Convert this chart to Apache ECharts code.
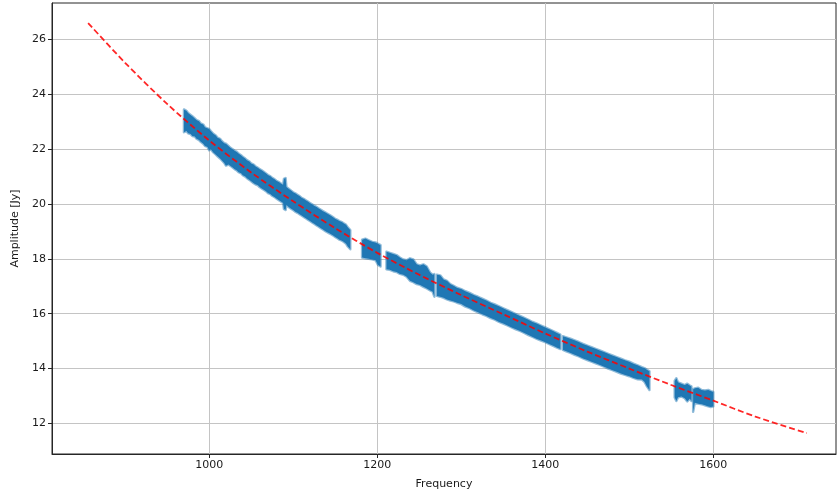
<!DOCTYPE html>
<html>
<head>
<meta charset="utf-8">
<script src="https://cdn.jsdelivr.net/npm/echarts@6/dist/echarts.min.js"></script>
<style>
html,body{margin:0;padding:0;background:#fff;}
#chart{width:837px;height:495px;}
</style>
</head>
<body>
<div id="chart"></div>
<script>
// ---- data ----
const xTicks = [1000, 1200, 1400, 1600];
const yTicks = [12, 14, 16, 18, 20, 22, 24, 26];

// red dashed model curve
const fitFreq = [856, 900, 950, 1000, 1050, 1100, 1150, 1200, 1250, 1300, 1350, 1400, 1450, 1500, 1550, 1600, 1650, 1711];
const fitAmp  = [26.60, 25.15, 23.65, 22.32, 21.15, 20.10, 19.12, 18.22, 17.42, 16.68, 15.98, 15.28, 14.62, 14.00, 13.40, 12.83, 12.25, 11.65];

// measured amplitude band (upper / lower envelope); null separates segments
const bandFreq = [
  970,973,975,978,980,983,985,988,990,993,995,998,1000,1002,1005,1008,1010,1013,1015,1018,1020,1023,1025,1028,1030,1033,1035,1038,1040,1043,1045,1048,1050,1053,1055,1058,1060,1063,1065,1068,1070,1073,1075,1078,1080,1083,1085,1088,1089,1091,1092,1095,1098,1100,1103,1105,1108,1110,1113,1115,1118,1120,1123,1125,1128,1130,1133,1135,1138,1140,1143,1145,1148,1150,1153,1155,1158,1160,1163,1165,1168,
  null,
  1182,1186,1190,1194,1198,1201,1204,
  null,
  1211,1215,1219,1223,1227,1231,1235,1239,1243,1247,1251,1255,1259,1263,1266,1268,
  null,
  1271,1275,1279,1283,1287,1291,1295,1300,1305,1310,1315,1320,1325,1330,1335,1340,1345,1350,1355,1360,1365,1370,1375,1380,1385,1390,1395,1400,1405,1410,1414,1418,
  null,
  1421,1425,1430,1435,1440,1445,1450,1455,1460,1465,1470,1475,1480,1485,1490,1495,1500,1505,1510,1515,1518,1521,1524,
  null,
  1554,1556,1558,1562,1566,1569,1572,1574,
  null,
  1576,1578,1582,1586,1590,1594,1597,1600
];
const bandUpper = [
  23.45,23.40,23.32,23.25,23.20,23.12,23.06,23.02,22.94,22.90,22.80,22.76,22.74,22.66,22.56,22.50,22.42,22.38,22.30,22.22,22.20,22.12,22.06,22.00,21.95,21.90,21.84,21.78,21.72,21.66,21.60,21.55,21.48,21.44,21.38,21.32,21.28,21.22,21.18,21.11,21.06,21.01,20.96,20.90,20.85,20.80,20.76,20.70,20.92,20.95,20.62,20.55,20.48,20.43,20.38,20.34,20.28,20.23,20.18,20.14,20.08,20.04,19.98,19.94,19.89,19.85,19.79,19.75,19.70,19.66,19.61,19.57,19.51,19.46,19.42,19.38,19.34,19.30,19.24,19.15,19.05,
  null,
  18.70,18.74,18.68,18.62,18.60,18.55,18.50,
  null,
  18.26,18.22,18.18,18.14,18.05,17.98,17.95,18.02,17.98,17.80,17.76,17.80,17.72,17.50,17.42,17.45,
  null,
  17.42,17.40,17.25,17.20,17.08,17.02,16.95,16.90,16.82,16.76,16.68,16.62,16.55,16.48,16.40,16.34,16.27,16.20,16.13,16.06,15.99,15.92,15.85,15.78,15.70,15.64,15.57,15.50,15.43,15.36,15.30,15.24,
  null,
  15.18,15.14,15.09,15.03,14.97,14.90,14.84,14.78,14.72,14.66,14.60,14.54,14.48,14.42,14.36,14.30,14.25,14.18,14.12,14.05,14.02,13.96,13.90,
  null,
  13.55,13.65,13.50,13.45,13.40,13.45,13.38,13.35,
  null,
  13.25,13.28,13.30,13.22,13.20,13.22,13.18,13.15
];
const bandLower = [
  22.62,22.66,22.58,22.55,22.48,22.46,22.38,22.33,22.27,22.20,22.12,22.08,21.96,22.00,21.88,21.80,21.74,21.66,21.60,21.50,21.40,21.44,21.40,21.33,21.28,21.22,21.16,21.12,21.05,21.00,20.94,20.88,20.83,20.76,20.72,20.68,20.62,20.56,20.52,20.46,20.40,20.36,20.30,20.25,20.20,20.14,20.10,20.04,19.82,19.78,19.96,19.88,19.82,19.78,19.71,19.68,19.62,19.58,19.52,19.48,19.42,19.38,19.32,19.28,19.22,19.18,19.12,19.08,19.02,18.98,18.93,18.90,18.84,18.80,18.74,18.70,18.66,18.62,18.55,18.45,18.35,
  null,
  18.05,18.02,18.00,17.98,17.95,17.78,17.72,
  null,
  17.62,17.60,17.55,17.52,17.45,17.42,17.35,17.20,17.15,17.08,17.05,16.98,16.92,16.85,16.80,16.62,
  null,
  16.65,16.62,16.58,16.52,16.48,16.45,16.40,16.35,16.26,16.20,16.12,16.05,15.98,15.92,15.84,15.78,15.70,15.64,15.57,15.50,15.43,15.37,15.30,15.22,15.15,15.08,15.02,14.96,14.89,14.82,14.76,14.71,
  null,
  14.68,14.63,14.57,14.50,14.44,14.37,14.31,14.25,14.19,14.13,14.07,14.00,13.94,13.88,13.82,13.77,13.72,13.66,13.61,13.60,13.52,13.35,13.22,
  null,
  12.95,12.82,12.95,12.98,12.92,12.80,12.90,12.82,
  null,
  12.42,12.75,12.72,12.70,12.66,12.62,12.60,12.62
];

// ---- build segments ----
const segments = [];
let cur = [];
for (let i = 0; i < bandFreq.length; i++) {
  if (bandFreq[i] === null) { if (cur.length) segments.push(cur); cur = []; continue; }
  cur.push([bandFreq[i], bandUpper[i], bandLower[i]]);
}
if (cur.length) segments.push(cur);

const chart = echarts.init(document.getElementById('chart'), null, {renderer: 'canvas'});
const axisFont = {fontFamily: 'DejaVu Sans', fontSize: 11, color: '#1a1a1a'};
const plain = v => String(v);

chart.setOption({
  animation: false,
  backgroundColor: '#ffffff',
  grid: {left: 52, right: 1, top: 3, bottom: 41, containLabel: false, outerBoundsMode: 'none',
         show: true, borderColor: '#262626', borderWidth: 1, backgroundColor: 'transparent'},
  xAxis: {
    type: 'value', min: 813, max: 1746,
    name: 'Frequency', nameLocation: 'middle', nameGap: 25,
    nameTextStyle: {fontFamily: 'DejaVu Sans', fontSize: 11, color: '#1a1a1a'},
    axisLine: {show: true, onZero: false, lineStyle: {color: '#262626', width: 1}},
    axisTick: {show: true, length: 4, customValues: xTicks, lineStyle: {color: '#262626', width: 1}},
    axisLabel: Object.assign({customValues: xTicks, margin: 6, formatter: plain}, axisFont),
    splitLine: {show: true, lineStyle: {color: '#c4c4c4', width: 1}}
  },
  yAxis: {
    type: 'value', min: 10.885, max: 27.33,
    name: 'Amplitude [Jy]', nameLocation: 'middle', nameGap: 30, nameRotate: 90,
    nameTextStyle: {fontFamily: 'DejaVu Sans', fontSize: 11, color: '#1a1a1a'},
    axisLine: {show: true, onZero: false, lineStyle: {color: '#262626', width: 1}},
    axisTick: {show: true, length: 4, customValues: yTicks, lineStyle: {color: '#262626', width: 1}},
    axisLabel: Object.assign({customValues: yTicks, margin: 6, formatter: plain}, axisFont),
    splitLine: {show: true, lineStyle: {color: '#c4c4c4', width: 1}}
  },
  series: [
    {
      type: 'custom',
      z: 2,
      data: segments.map(s => [s[0][0], s[0][1]]),
      renderItem: function (params, api) {
        const seg = segments[params.dataIndex];
        const pts = [];
        for (let k = 0; k < seg.length; k++) pts.push(api.coord([seg[k][0], seg[k][1]]));
        for (let k = seg.length - 1; k >= 0; k--) pts.push(api.coord([seg[k][0], seg[k][2]]));
        return {
          type: 'polygon',
          shape: {points: pts},
          style: {fill: '#1f77b4', stroke: 'rgba(31,119,180,0.5)', lineWidth: 2.4, lineJoin: 'round'}
        };
      }
    },
    {
      type: 'line',
      z: 3,
      data: fitFreq.map((f, i) => [f, fitAmp[i]]),
      smooth: 0.3,
      showSymbol: false,
      symbol: 'none',
      lineStyle: {color: 'rgba(255,0,0,0.85)', width: 1.8, type: [6, 3]}
    }
  ]
});
</script>
</body>
</html>
